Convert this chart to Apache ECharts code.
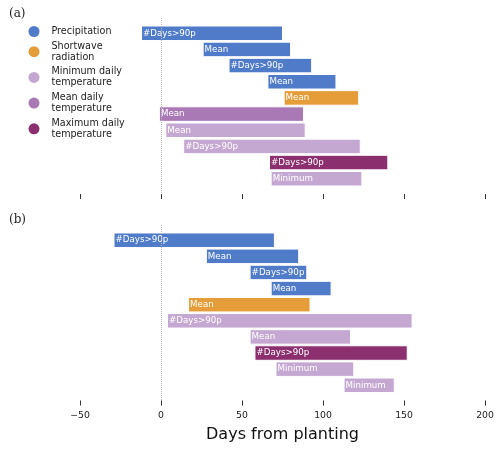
<!DOCTYPE html>
<html>
<head>
<meta charset="utf-8">
<script src="https://cdn.jsdelivr.net/npm/echarts@6/dist/echarts.min.js"></script>
<style>
  html, body { margin: 0; padding: 0; background: #fff; }
  #chart { width: 500px; height: 450px; }
</style>
</head>
<body>
<div id="chart"></div>
<script>
// variables (legend)
const variables = ['Precipitation', 'Shortwave radiation', 'Minimum daily temperature', 'Mean daily temperature', 'Maximum daily temperature']
const legendLabels = ['Precipitation', 'Shortwave\nradiation', 'Minimum daily\ntemperature', 'Mean daily\ntemperature', 'Maximum daily\ntemperature']
const colors = ['#4f7bc8', '#e59d3a', '#c5a8d2', '#a879b5', '#8b2f6f']

// panel (a): one entry per row, top to bottom
const aVar = [0, 0, 0, 0, 1, 3, 2, 2, 4, 2]
const aStart = [-12, 26, 42, 66, 76, -1, 3, 14, 67, 68]
const aEnd = [75, 80, 93, 108, 122, 88, 89, 123, 140, 124]
const aLabel = ['#Days>90p', 'Mean', '#Days>90p', 'Mean', 'Mean', 'Mean', 'Mean', '#Days>90p', '#Days>90p', 'Minimum']

// panel (b)
const bVar = [0, 0, 0, 0, 1, 2, 2, 4, 2, 2]
const bStart = [-29, 28, 55, 68, 17, 4, 55, 58, 71, 113]
const bEnd = [70, 85, 90, 105, 92, 155, 117, 152, 119, 144]
const bLabel = ['#Days>90p', 'Mean', '#Days>90p', 'Mean', 'Mean', '#Days>90p', 'Mean', '#Days>90p', 'Minimum', 'Minimum']

const xTicks = [-50, 200, 50] // min, max, interval

const font = 'DejaVu Sans'

function makeRender (labels) {
  return function (params, api) {
    const p0 = api.coord([api.value(0), api.value(2)])
    const p1 = api.coord([api.value(1), api.value(2)])
    const h = api.size([0, 0.9])[1]
    return {
      type: 'rect',
      shape: { x: p0[0], y: p0[1] - h / 2, width: p1[0] - p0[0], height: h },
      style: { fill: api.visual('color'), stroke: '#fff', lineWidth: 1 },
      textContent: {
        style: { text: labels[params.dataIndex], fill: '#fff', fontSize: 8.7, fontFamily: font }
      },
      textConfig: { position: 'insideLeft', distance: 2 }
    }
  }
}

function buildSeries (panel, vars, starts, ends, labels) {
  const out = []
  variables.forEach(function (name, v) {
    const data = []
    const lab = []
    vars.forEach(function (vi, row) {
      if (vi === v) {
        data.push([starts[row], ends[row], row])
        lab.push(labels[row])
      }
    })
    const s = {
      name: name,
      type: 'custom',
      xAxisIndex: panel,
      yAxisIndex: panel,
      itemStyle: { color: colors[v] },
      renderItem: makeRender(lab),
      encode: { x: [0, 1], y: 2 },
      data: data
    }
    if (v === 0) {
      // dotted line at planting day
      s.markLine = {
        silent: true,
        symbol: ['none', 'none'],
        label: { show: false },
        lineStyle: { color: '#bbbbbb', type: 'dotted', width: 1 },
        data: [{ xAxis: 0 }]
      }
    }
    out.push(s)
  })
  return out
}

const myChart = echarts.init(document.getElementById('chart'))

const xAxisBase = {
  type: 'value',
  position: 'bottom',
  min: xTicks[0],
  max: xTicks[1],
  interval: xTicks[2],
  axisLine: { show: false, onZero: false },
  axisTick: { show: true, inside: false, length: 5, lineStyle: { color: '#333', width: 1 } },
  splitLine: { show: false }
}

const yAxisBase = {
  type: 'value',
  inverse: true,
  min: -0.945,
  max: 9.945,
  show: false
}

myChart.setOption({
  animation: false,
  color: colors,
  title: [
    { text: '(a)', left: 4, top: 3, textStyle: { fontFamily: 'DejaVu Serif', fontSize: 12, fontWeight: 'normal', color: '#222' } },
    { text: '(b)', left: 4, top: 209, textStyle: { fontFamily: 'DejaVu Serif', fontSize: 12, fontWeight: 'normal', color: '#222' } }
  ],
  legend: {
    orient: 'vertical',
    left: 28.5,
    top: 26,
    padding: 0,
    icon: 'circle',
    itemWidth: 11,
    itemHeight: 11,
    itemGap: 3.7,
    data: variables,
    formatter: function (name) {
      return legendLabels[variables.indexOf(name)]
    },
    textStyle: { fontFamily: font, fontSize: 9.6, lineHeight: 11, color: '#222', padding: [0, 0, 0, 7] }
  },
  grid: [
    { left: 80, width: 405, top: 18, height: 176 },
    { left: 80, width: 405, top: 225, height: 175.5 }
  ],
  xAxis: [
    Object.assign({ gridIndex: 0, axisLabel: { show: false } }, xAxisBase),
    Object.assign({
      gridIndex: 1,
      axisLabel: {
        show: true,
        fontFamily: font,
        fontSize: 9.3,
        color: '#222',
        margin: 11,
        formatter: function (v) { return String(v).replace('-', '\u2212') }
      },
      name: 'Days from planting',
      nameLocation: 'middle',
      nameGap: 26,
      nameTextStyle: { fontFamily: font, fontSize: 16, color: '#111' }
    }, xAxisBase)
  ],
  yAxis: [
    Object.assign({ gridIndex: 0 }, yAxisBase),
    Object.assign({ gridIndex: 1 }, yAxisBase)
  ],
  series: buildSeries(0, aVar, aStart, aEnd, aLabel)
    .concat(buildSeries(1, bVar, bStart, bEnd, bLabel))
})
</script>
</body>
</html>
